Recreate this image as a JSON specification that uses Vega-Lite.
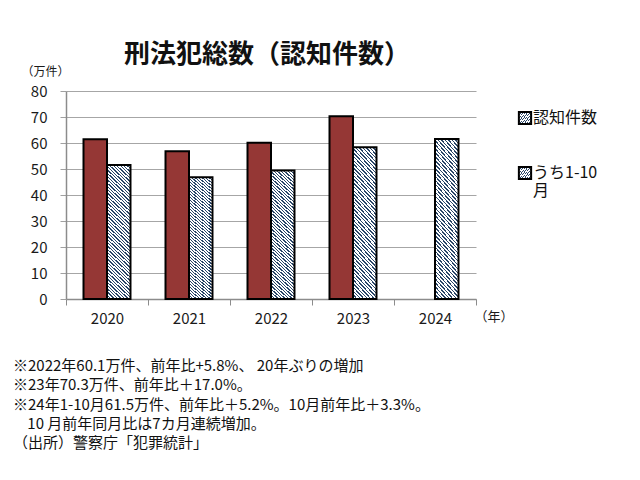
{
  "$schema": "https://vega.github.io/schema/vega-lite/v6.json",
  "background": "white",
  "padding": {"left": 13, "top": 42, "right": 5, "bottom": 5},
  "config": {
    "font": "Noto Sans CJK JP",
    "view": {"stroke": null},
    "axis": {"labelColor": "#1a1a1a", "titleColor": "#1a1a1a", "titleFontWeight": "normal"}
  },
  "title": {
    "text": [
      "※2022年60.1万件、前年比+5.8%、 20年ぶりの増加",
      "※23年70.3万件、前年比＋17.0%。",
      "※24年1-10月61.5万件、前年比＋5.2%。10月前年比＋3.3%。",
      "\u2800 10 月前年同月比は7カ月連続増加。",
      "（出所）警察庁「犯罪統計」"
    ],
    "orient": "bottom",
    "anchor": "start",
    "frame": "bounds",
    "fontSize": 15,
    "fontWeight": "normal",
    "lineHeight": 19.3,
    "color": "#111111",
    "offset": 33,
    "dx": -8
  },
  "vconcat": [
    {
      "title": {
        "text": "刑法犯総数（認知件数）",
        "fontSize": 26,
        "fontWeight": "bold",
        "anchor": "middle",
        "frame": "group",
        "dx": -4,
        "offset": -3,
        "color": "#111111"
      },
      "width": 410,
      "height": 208,
      "data": {
        "values": [
          {"year": "2020", "series": "認知件数", "value": 61.4},
          {"year": "2020", "series": "うち1-10月", "value": 51.5},
          {"year": "2021", "series": "認知件数", "value": 56.8},
          {"year": "2021", "series": "うち1-10月", "value": 46.8},
          {"year": "2022", "series": "認知件数", "value": 60.1},
          {"year": "2022", "series": "うち1-10月", "value": 49.4},
          {"year": "2023", "series": "認知件数", "value": 70.3},
          {"year": "2023", "series": "うち1-10月", "value": 58.4},
          {"year": "2024", "series": "うち1-10月", "value": 61.5}
        ]
      },
      "mark": {"type": "bar", "strokeWidth": 2},
      "encoding": {
        "x": {
          "field": "year",
          "type": "nominal",
          "scale": {"paddingInner": 0, "paddingOuter": 0},
          "axis": {
            "title": "（年）",
            "titleAngle": 0,
            "titleX": 408,
            "titleY": 17,
            "titleAlign": "left",
            "titleBaseline": "middle",
            "titleFontSize": 13,
            "labelAngle": 0,
            "labelFontSize": 15,
            "labelPadding": 6,
            "tickBand": "extent",
            "tickSize": 6,
            "tickColor": "#8c8c8c",
            "domainColor": "#8c8c8c",
            "domainWidth": 1.5,
            "grid": false
          }
        },
        "xOffset": {
          "field": "series",
          "type": "nominal",
          "scale": {"domain": ["認知件数", "うち1-10月"], "paddingInner": 0, "paddingOuter": 0.745}
        },
        "y": {
          "field": "value",
          "type": "quantitative",
          "scale": {"domain": [0, 80], "nice": false},
          "axis": {
            "title": "（万件）",
            "titleAngle": 0,
            "titleX": -45,
            "titleY": -20,
            "titleAlign": "left",
            "titleBaseline": "middle",
            "titleFontSize": 12,
            "values": [0, 10, 20, 30, 40, 50, 60, 70, 80],
            "labelFontSize": 15,
            "labelPadding": 13,
            "tickSize": 6,
            "tickColor": "#a0a0a0",
            "domainColor": "#8c8c8c",
            "domainWidth": 1.5,
            "gridColor": "#a6a6a6",
            "gridWidth": 1.2
          }
        },
        "stroke": {
          "field": "series",
          "type": "nominal",
          "scale": {"domain": ["認知件数", "うち1-10月"], "range": ["#000000", "#000000"]},
          "legend": {
            "title": null,
            "orient": "none",
            "legendX": 451,
            "legendY": 19,
            "symbolType": "square",
            "symbolSize": 150,
            "symbolStrokeWidth": 2,
            "symbolOpacity": 1,
            "labelFontSize": 16,
            "labelColor": "#111111",
            "labelLineHeight": 21.5,
            "labelOffset": 0,
            "rowPadding": 33,
            "labelExpr": "datum.label === 'うち1-10月' ? ['うち1-10', '月'] : datum.label",
            "encode": {
              "symbols": {
                "update": {
                  "fill": {"value": {"expr": "datum.value === 'うち1-10月' ? {gradient: 'linear', x1: 0, y1: 1, x2: 1, y2: 0, stops: [{offset: 0, color: '#ffffff'}, {offset: 0.3, color: '#ffffff'}, {offset: 0.3, color: '#2a4668'}, {offset: 0.42, color: '#2a4668'}, {offset: 0.42, color: '#ffffff'}, {offset: 0.58, color: '#ffffff'}, {offset: 0.58, color: '#2a4668'}, {offset: 0.7, color: '#2a4668'}, {offset: 0.7, color: '#ffffff'}, {offset: 1, color: '#ffffff'}]} : '#953735'"}},
                  "fillOpacity": {"value": 1}
                }
              }
            }
          }
        },
        "fill": {
          "field": "series",
          "type": "nominal",
          "legend": null,
          "scale": {"range": ["#8a9cb0", "#953735"]},
          "condition": {
            "test": "datum.series === 'うち1-10月'",
            "value": {
              "gradient": "linear",
              "x1": 0, "y1": 1, "x2": 0.2, "y2": -0.2,
              "stops": [
                {"offset": 0.00, "color": "#2a4668"}, {"offset": 0.008, "color": "#2a4668"}, {"offset": 0.008, "color": "#ffffff"}, {"offset": 0.02, "color": "#ffffff"},
                {"offset": 0.02, "color": "#2a4668"}, {"offset": 0.028, "color": "#2a4668"}, {"offset": 0.028, "color": "#ffffff"}, {"offset": 0.04, "color": "#ffffff"},
                {"offset": 0.04, "color": "#2a4668"}, {"offset": 0.048, "color": "#2a4668"}, {"offset": 0.048, "color": "#ffffff"}, {"offset": 0.06, "color": "#ffffff"},
                {"offset": 0.06, "color": "#2a4668"}, {"offset": 0.068, "color": "#2a4668"}, {"offset": 0.068, "color": "#ffffff"}, {"offset": 0.08, "color": "#ffffff"},
                {"offset": 0.08, "color": "#2a4668"}, {"offset": 0.088, "color": "#2a4668"}, {"offset": 0.088, "color": "#ffffff"}, {"offset": 0.10, "color": "#ffffff"},
                {"offset": 0.10, "color": "#2a4668"}, {"offset": 0.108, "color": "#2a4668"}, {"offset": 0.108, "color": "#ffffff"}, {"offset": 0.12, "color": "#ffffff"},
                {"offset": 0.12, "color": "#2a4668"}, {"offset": 0.128, "color": "#2a4668"}, {"offset": 0.128, "color": "#ffffff"}, {"offset": 0.14, "color": "#ffffff"},
                {"offset": 0.14, "color": "#2a4668"}, {"offset": 0.148, "color": "#2a4668"}, {"offset": 0.148, "color": "#ffffff"}, {"offset": 0.16, "color": "#ffffff"},
                {"offset": 0.16, "color": "#2a4668"}, {"offset": 0.168, "color": "#2a4668"}, {"offset": 0.168, "color": "#ffffff"}, {"offset": 0.18, "color": "#ffffff"},
                {"offset": 0.18, "color": "#2a4668"}, {"offset": 0.188, "color": "#2a4668"}, {"offset": 0.188, "color": "#ffffff"}, {"offset": 0.20, "color": "#ffffff"},
                {"offset": 0.20, "color": "#2a4668"}, {"offset": 0.208, "color": "#2a4668"}, {"offset": 0.208, "color": "#ffffff"}, {"offset": 0.22, "color": "#ffffff"},
                {"offset": 0.22, "color": "#2a4668"}, {"offset": 0.228, "color": "#2a4668"}, {"offset": 0.228, "color": "#ffffff"}, {"offset": 0.24, "color": "#ffffff"},
                {"offset": 0.24, "color": "#2a4668"}, {"offset": 0.248, "color": "#2a4668"}, {"offset": 0.248, "color": "#ffffff"}, {"offset": 0.26, "color": "#ffffff"},
                {"offset": 0.26, "color": "#2a4668"}, {"offset": 0.268, "color": "#2a4668"}, {"offset": 0.268, "color": "#ffffff"}, {"offset": 0.28, "color": "#ffffff"},
                {"offset": 0.28, "color": "#2a4668"}, {"offset": 0.288, "color": "#2a4668"}, {"offset": 0.288, "color": "#ffffff"}, {"offset": 0.30, "color": "#ffffff"},
                {"offset": 0.30, "color": "#2a4668"}, {"offset": 0.308, "color": "#2a4668"}, {"offset": 0.308, "color": "#ffffff"}, {"offset": 0.32, "color": "#ffffff"},
                {"offset": 0.32, "color": "#2a4668"}, {"offset": 0.328, "color": "#2a4668"}, {"offset": 0.328, "color": "#ffffff"}, {"offset": 0.34, "color": "#ffffff"},
                {"offset": 0.34, "color": "#2a4668"}, {"offset": 0.348, "color": "#2a4668"}, {"offset": 0.348, "color": "#ffffff"}, {"offset": 0.36, "color": "#ffffff"},
                {"offset": 0.36, "color": "#2a4668"}, {"offset": 0.368, "color": "#2a4668"}, {"offset": 0.368, "color": "#ffffff"}, {"offset": 0.38, "color": "#ffffff"},
                {"offset": 0.38, "color": "#2a4668"}, {"offset": 0.388, "color": "#2a4668"}, {"offset": 0.388, "color": "#ffffff"}, {"offset": 0.40, "color": "#ffffff"},
                {"offset": 0.40, "color": "#2a4668"}, {"offset": 0.408, "color": "#2a4668"}, {"offset": 0.408, "color": "#ffffff"}, {"offset": 0.42, "color": "#ffffff"},
                {"offset": 0.42, "color": "#2a4668"}, {"offset": 0.428, "color": "#2a4668"}, {"offset": 0.428, "color": "#ffffff"}, {"offset": 0.44, "color": "#ffffff"},
                {"offset": 0.44, "color": "#2a4668"}, {"offset": 0.448, "color": "#2a4668"}, {"offset": 0.448, "color": "#ffffff"}, {"offset": 0.46, "color": "#ffffff"},
                {"offset": 0.46, "color": "#2a4668"}, {"offset": 0.468, "color": "#2a4668"}, {"offset": 0.468, "color": "#ffffff"}, {"offset": 0.48, "color": "#ffffff"},
                {"offset": 0.48, "color": "#2a4668"}, {"offset": 0.488, "color": "#2a4668"}, {"offset": 0.488, "color": "#ffffff"}, {"offset": 0.50, "color": "#ffffff"},
                {"offset": 0.50, "color": "#2a4668"}, {"offset": 0.508, "color": "#2a4668"}, {"offset": 0.508, "color": "#ffffff"}, {"offset": 0.52, "color": "#ffffff"},
                {"offset": 0.52, "color": "#2a4668"}, {"offset": 0.528, "color": "#2a4668"}, {"offset": 0.528, "color": "#ffffff"}, {"offset": 0.54, "color": "#ffffff"},
                {"offset": 0.54, "color": "#2a4668"}, {"offset": 0.548, "color": "#2a4668"}, {"offset": 0.548, "color": "#ffffff"}, {"offset": 0.56, "color": "#ffffff"},
                {"offset": 0.56, "color": "#2a4668"}, {"offset": 0.568, "color": "#2a4668"}, {"offset": 0.568, "color": "#ffffff"}, {"offset": 0.58, "color": "#ffffff"},
                {"offset": 0.58, "color": "#2a4668"}, {"offset": 0.588, "color": "#2a4668"}, {"offset": 0.588, "color": "#ffffff"}, {"offset": 0.60, "color": "#ffffff"},
                {"offset": 0.60, "color": "#2a4668"}, {"offset": 0.608, "color": "#2a4668"}, {"offset": 0.608, "color": "#ffffff"}, {"offset": 0.62, "color": "#ffffff"},
                {"offset": 0.62, "color": "#2a4668"}, {"offset": 0.628, "color": "#2a4668"}, {"offset": 0.628, "color": "#ffffff"}, {"offset": 0.64, "color": "#ffffff"},
                {"offset": 0.64, "color": "#2a4668"}, {"offset": 0.648, "color": "#2a4668"}, {"offset": 0.648, "color": "#ffffff"}, {"offset": 0.66, "color": "#ffffff"},
                {"offset": 0.66, "color": "#2a4668"}, {"offset": 0.668, "color": "#2a4668"}, {"offset": 0.668, "color": "#ffffff"}, {"offset": 0.68, "color": "#ffffff"},
                {"offset": 0.68, "color": "#2a4668"}, {"offset": 0.688, "color": "#2a4668"}, {"offset": 0.688, "color": "#ffffff"}, {"offset": 0.70, "color": "#ffffff"},
                {"offset": 0.70, "color": "#2a4668"}, {"offset": 0.708, "color": "#2a4668"}, {"offset": 0.708, "color": "#ffffff"}, {"offset": 0.72, "color": "#ffffff"},
                {"offset": 0.72, "color": "#2a4668"}, {"offset": 0.728, "color": "#2a4668"}, {"offset": 0.728, "color": "#ffffff"}, {"offset": 0.74, "color": "#ffffff"},
                {"offset": 0.74, "color": "#2a4668"}, {"offset": 0.748, "color": "#2a4668"}, {"offset": 0.748, "color": "#ffffff"}, {"offset": 0.76, "color": "#ffffff"},
                {"offset": 0.76, "color": "#2a4668"}, {"offset": 0.768, "color": "#2a4668"}, {"offset": 0.768, "color": "#ffffff"}, {"offset": 0.78, "color": "#ffffff"},
                {"offset": 0.78, "color": "#2a4668"}, {"offset": 0.788, "color": "#2a4668"}, {"offset": 0.788, "color": "#ffffff"}, {"offset": 0.80, "color": "#ffffff"},
                {"offset": 0.80, "color": "#2a4668"}, {"offset": 0.808, "color": "#2a4668"}, {"offset": 0.808, "color": "#ffffff"}, {"offset": 0.82, "color": "#ffffff"},
                {"offset": 0.82, "color": "#2a4668"}, {"offset": 0.828, "color": "#2a4668"}, {"offset": 0.828, "color": "#ffffff"}, {"offset": 0.84, "color": "#ffffff"},
                {"offset": 0.84, "color": "#2a4668"}, {"offset": 0.848, "color": "#2a4668"}, {"offset": 0.848, "color": "#ffffff"}, {"offset": 0.86, "color": "#ffffff"},
                {"offset": 0.86, "color": "#2a4668"}, {"offset": 0.868, "color": "#2a4668"}, {"offset": 0.868, "color": "#ffffff"}, {"offset": 0.88, "color": "#ffffff"},
                {"offset": 0.88, "color": "#2a4668"}, {"offset": 0.888, "color": "#2a4668"}, {"offset": 0.888, "color": "#ffffff"}, {"offset": 0.90, "color": "#ffffff"},
                {"offset": 0.90, "color": "#2a4668"}, {"offset": 0.908, "color": "#2a4668"}, {"offset": 0.908, "color": "#ffffff"}, {"offset": 0.92, "color": "#ffffff"},
                {"offset": 0.92, "color": "#2a4668"}, {"offset": 0.928, "color": "#2a4668"}, {"offset": 0.928, "color": "#ffffff"}, {"offset": 0.94, "color": "#ffffff"},
                {"offset": 0.94, "color": "#2a4668"}, {"offset": 0.948, "color": "#2a4668"}, {"offset": 0.948, "color": "#ffffff"}, {"offset": 0.96, "color": "#ffffff"},
                {"offset": 0.96, "color": "#2a4668"}, {"offset": 0.968, "color": "#2a4668"}, {"offset": 0.968, "color": "#ffffff"}, {"offset": 0.98, "color": "#ffffff"},
                {"offset": 0.98, "color": "#2a4668"}, {"offset": 0.988, "color": "#2a4668"}, {"offset": 0.988, "color": "#ffffff"}, {"offset": 1.00, "color": "#ffffff"}
              ]
            }
          }
        }
      }
    }
  ]
}
